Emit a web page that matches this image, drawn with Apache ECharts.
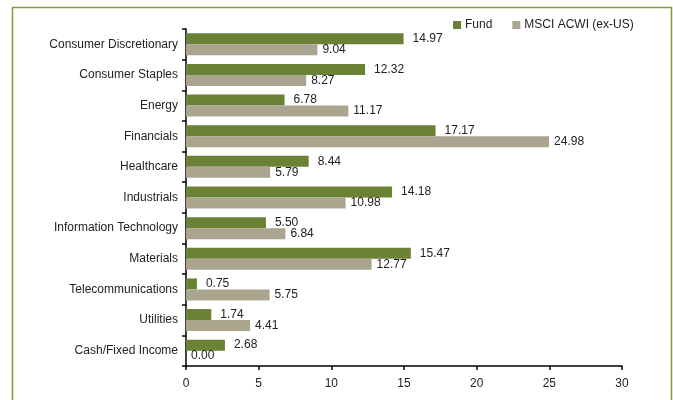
<!DOCTYPE html>
<html><head><meta charset="utf-8">
<script src="https://cdn.jsdelivr.net/npm/echarts@6/dist/echarts.min.js"></script>
<style>html,body{margin:0;padding:0;background:#fff}#c{width:673px;height:400px}</style>
</head><body><div id="c"></div>
<script>
var categories = ["Consumer Discretionary","Consumer Staples","Energy","Financials","Healthcare","Industrials","Information Technology","Materials","Telecommunications","Utilities","Cash/Fixed Income"];
var fund = [14.97,12.32,6.78,17.17,8.44,14.18,5.50,15.47,0.75,1.74,2.68];
var msci = [9.04,8.27,11.17,24.98,5.79,10.98,6.84,12.77,5.75,4.41,0.00];
var xTicks = [0,5,10,15,20,25,30];
var FONT = "'Liberation Sans Narrow','Arial Narrow','Liberation Sans',sans-serif";
var chart = echarts.init(document.getElementById('c'), null, {renderer:'canvas'});
function mkLabel(d){return {show:true, position:'right', distance:d, color:'#222', fontFamily:FONT, fontSize:12, formatter:function(p){return p.value.toFixed(2);}};}
chart.setOption({
  animation:false,
  graphic:[{type:'rect', shape:{x:12.5,y:7.5,width:659,height:400}, style:{fill:'none', stroke:'#7d9b3c', lineWidth:1.5}, z:0}],
  legend:{top:14, left:448, itemWidth:8, itemHeight:8, itemGap:20, icon:'rect',
    textStyle:{fontFamily:FONT, fontSize:12, color:'#222', padding:[0,0,0,-1]},
    data:['Fund','MSCI ACWI (ex-US)']},
  grid:{left:186, right:51, top:29, bottom:34},
  xAxis:{type:'value', min:0, max:30, interval:5,
    axisLine:{show:true, lineStyle:{color:'#000', width:1.5}},
    axisTick:{show:true, inside:false, length:4, lineStyle:{color:'#000', width:1.5}},
    splitLine:{show:false},
    axisLabel:{color:'#222', fontFamily:FONT, fontSize:12, margin:12, formatter:function(v){return xTicks.indexOf(v)>=0?String(v):'';}}},
  yAxis:{type:'category', inverse:true, data:categories,
    axisLine:{show:true, lineStyle:{color:'#000', width:1.5}},
    axisTick:{show:true, length:4, lineStyle:{color:'#000', width:1.5}},
    axisLabel:{color:'#222', fontFamily:FONT, fontSize:12, margin:8}},
  series:[
    {name:'Fund', type:'bar', data:fund, barWidth:11, barGap:'0%', itemStyle:{color:'#6b8136'}, label:mkLabel(9)},
    {name:'MSCI ACWI (ex-US)', type:'bar', data:msci, barWidth:11, barGap:'0%', itemStyle:{color:'#aba590'}, label:mkLabel(5)}
  ]
});
</script></body></html>
